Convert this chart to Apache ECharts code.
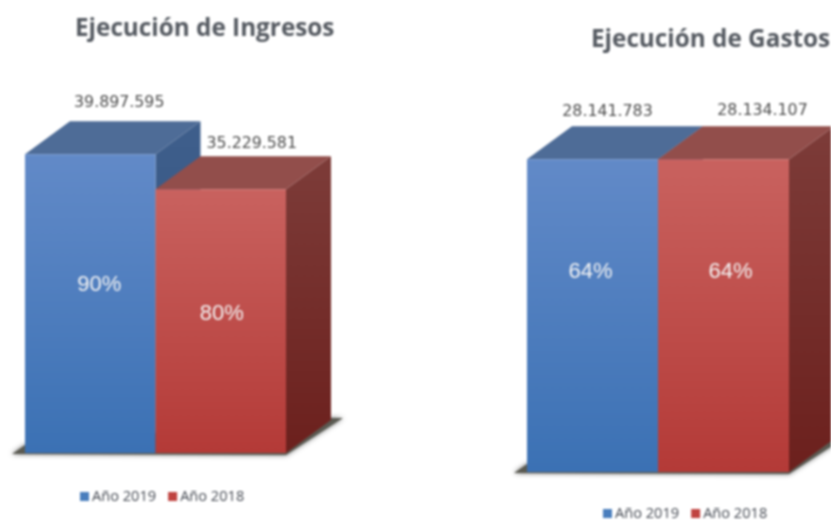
<!DOCTYPE html>
<html><head><meta charset="utf-8">
<script src="https://cdn.jsdelivr.net/npm/echarts@6/dist/echarts.min.js"></script>
<style>html,body{margin:0;background:#fff}#c{width:831px;height:520px;filter:blur(0.9px)}</style>
</head><body><div id="c"></div>
<script>
const categories = ['Año 2019', 'Año 2018'];
const ingresos = [39897595, 35229581];
const gastos = [28141783, 28134107];
const ingresosPct = ['90%', '80%'];
const gastosPct = ['64%', '64%'];

// layout only
const DX = 45, DY = 33;
const valueOffset = { ing: [[29, -18], [31, -12]], gas: [[15, -14], [39, -15]] };
const pctY = { ing: [0.563, 0.527], gas: [0.64, 0.64] };
const pctDx = { ing: [9, 1], gas: [-2, 7] };
const fmt = v => String(v).replace(/\B(?=(\d{3})+$)/g, '.');
const grad = (a, b) => new echarts.graphic.LinearGradient(0, 0, 0, 1, [{offset:0,color:a},{offset:1,color:b}]);
const poly = (points, fill, extra) => ({type:'polygon', shape:{points}, style:Object.assign({fill}, extra||{})});

const palette = [
  { front:['#628ac8','#3b71b4'], top:'#4e6c97', side:['#3f5f8c','#2f4f7c'] },
  { front:['#c9625f','#b43a37'], top:'#924e4b', side:['#7d3c39','#6c201d'] }
];

function barItem(key, k) {
  return function (params, api) {
    const i = api.value(0), v = api.value(1);
    const top = api.coord([i, v]), base = api.coord([i, 0]);
    const w = api.size([1, 0])[0];
    const x0 = top[0] - w / 2, x1 = top[0] + w / 2, yt = top[1], yb = base[1];
    const c = palette[k];
    const h = yb - yt;
    return { type:'group', children:[
      poly([[x1,yt],[x1+DX,yt-DY],[x1+DX,yb-DY],[x1,yb]], grad(c.side[0],c.side[1])),
      poly([[x0,yt],[x0+DX,yt-DY],[x1+DX,yt-DY],[x1,yt]], c.top),
      {type:'rect', shape:{x:x0,y:yt,width:w,height:h}, style:{fill:grad(c.front[0],c.front[1])}},
      {type:'text', x:top[0]+valueOffset[key][k][0], y:yt-DY+valueOffset[key][k][1], style:{
        text:fmt(v), fill:'#4d4d4d', font:'15.8px "DejaVu Sans"', align:'center', verticalAlign:'middle'}},
      {type:'text', x:top[0]+pctDx[key][k], y:yb-h*pctY[key][k], style:{
        text:(key==='ing'?ingresosPct:gastosPct)[k], fill:'#f4f4f4', font:'22px "Liberation Sans"', align:'center', verticalAlign:'middle'}}
    ]};
  };
}
function floorItem(params, api) {
  const base = api.coord([0, 0]);
  const w = api.size([1, 0])[0];
  const x0 = base[0] - w / 2, x2 = x0 + 2 * w, y = base[1];
  return { type:'group', children:[
    poly([[x0-13,y+1],[x0,y-8],[x2+DX,y-DY-2],[x2+DX+12,y-DY-2],[x2,y+2]], '#5a5a52',
         {shadowBlur:5, shadowColor:'rgba(70,70,70,0.8)'})
  ]};
}
function series(key, gridIndex, values) {
  const common = {type:'custom', xAxisIndex:gridIndex, yAxisIndex:gridIndex, coordinateSystem:'cartesian2d', silent:true, clip:false};
  return [
    Object.assign({}, common, {name:'Piso', data:[[0,0]], renderItem:floorItem, itemStyle:{color:'#5a5a52'}}),
    Object.assign({}, common, {name:categories[0], data:[[0,values[0]]], renderItem:barItem(key,0), itemStyle:{color:'#4a7ebd'}}),
    Object.assign({}, common, {name:categories[1], data:[[1,values[1]]], renderItem:barItem(key,1), itemStyle:{color:'#c04340'}})
  ];
}
const titleStyle = {fontFamily:'Open Sans', fontWeight:'bold', fontSize:24.3, color:'#555a61'};
const legendBase = {data:categories, orient:'horizontal', itemWidth:9, itemHeight:9, itemGap:12, icon:'rect', selectedMode:false,
  textStyle:{fontFamily:'Open Sans', fontSize:14.6, color:'#444952', padding:[0,0,0,-2]}};

const chart = echarts.init(document.getElementById('c'), null, {renderer:'canvas'});
chart.setOption({
  backgroundColor:'#fff', animation:false, tooltip:{show:false},
  title:[
    {text:'Ejecución de Ingresos', left:75, top:17, textStyle:titleStyle, padding:0},
    {text:'Ejecución de Gastos', left:591, top:28, textStyle:titleStyle, padding:0}
  ],
  legend:[
    Object.assign({}, legendBase, {left:80, top:489, padding:0}),
    Object.assign({}, legendBase, {left:603, top:506, padding:0})
  ],
  grid:[
    {left:25, width:261, top:153.5, height:299.5},
    {left:527, width:262, top:138.5, height:333.5}
  ],
  xAxis:[0,1].map(g => ({gridIndex:g, type:'category', data:categories, show:false})),
  yAxis:[
    {gridIndex:0, type:'value', min:0, max:40000000, show:false},
    {gridIndex:1, type:'value', min:0, max:30000000, show:false}
  ],
  series:[...series('ing',0,ingresos), ...series('gas',1,gastos)]
});
</script></body></html>
